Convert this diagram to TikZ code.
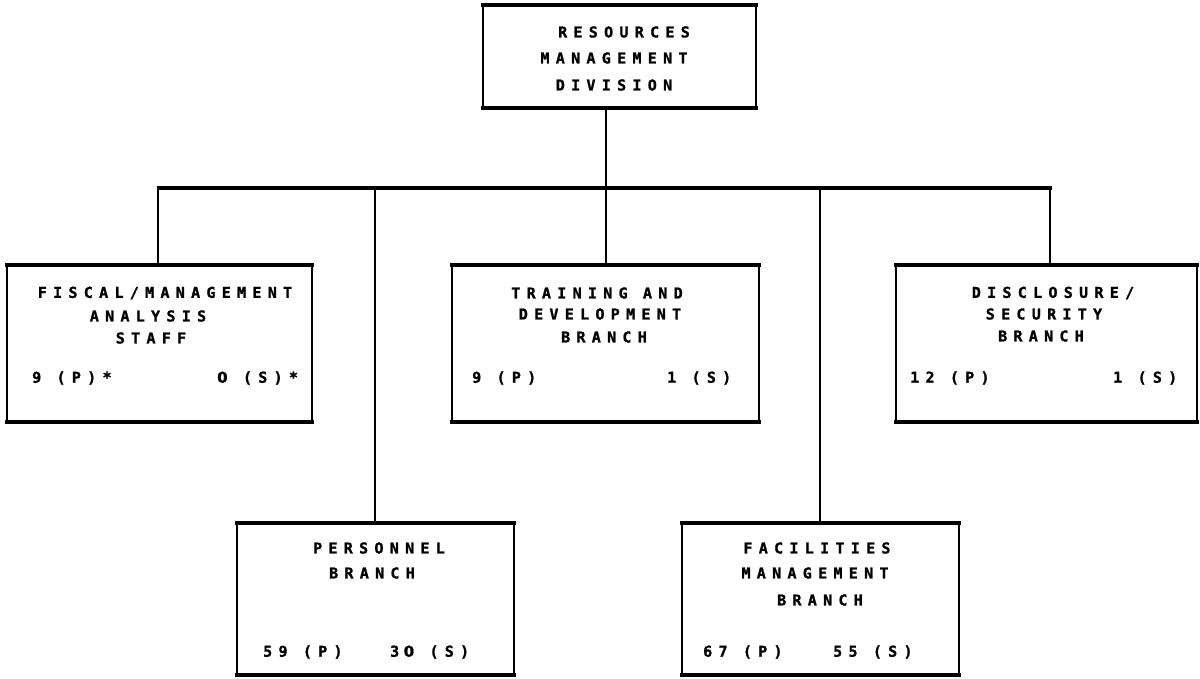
\documentclass[tikz,border=0pt]{standalone}
\usepackage{fontspec}
\newfontfamily\orgfont[LetterSpace=42,FakeBold=1.2]{DejaVu Sans Mono Bold}
% plain (undotted) zero for the staff counts
\newfontfamily\zerofont[LetterSpace=30,FakeBold=1.2]{DejaVu Sans Bold}
\newcommand\nought{{\zerofont 0}}
\begin{document}
\begin{tikzpicture}[x=1pt,y=-1pt,
  unit/.style={draw=none, inner sep=0, outer sep=0},
  side/.style={line width=1.5pt},
  rule/.style={line width=3.4pt},
  link/.style={line width=1.3pt},
  lbl/.style={inner sep=0, font=\orgfont\fontsize{15}{15}\selectfont},
  cnt/.style={lbl, anchor=west}]
\useasboundingbox (0,0) rectangle (1200,678);

\newcommand\orgframe[1]{%
  \draw[side] (#1.north west) -- (#1.south west) (#1.north east) -- (#1.south east);
  \draw[rule] ([xshift=-2pt]#1.north west) -- ([xshift=2pt]#1.north east);
  \draw[rule] ([xshift=-2pt]#1.south west) -- ([xshift=2pt]#1.south east);}

% unit outlines
\node[unit, minimum width=273pt, minimum height=103pt] (rmd) at (619.5,56.5) {};
\node[unit, minimum width=305pt, minimum height=157pt] (fiscal) at (159.5,343.5) {};
\node[unit, minimum width=307pt, minimum height=157pt] (training) at (605.5,343.5) {};
\node[unit, minimum width=301pt, minimum height=157pt] (disclosure) at (1046.5,343.5) {};
\node[unit, minimum width=277pt, minimum height=152pt] (personnel) at (375.5,599) {};
\node[unit, minimum width=277pt, minimum height=152pt] (facilities) at (820.5,599) {};
\foreach \u in {rmd,fiscal,training,disclosure,personnel,facilities}{\orgframe{\u}}

% bus and drops
\coordinate (busL) at (158,188);
\coordinate (busR) at (1050,188);
\coordinate (busC) at (606,188);
\coordinate (busP) at (375,188);
\coordinate (busF) at (820,188);
\draw[rule] ([xshift=-1.5pt]busL) -- ([xshift=1.5pt]busR);
\draw[link] (rmd.south -| busC) -- (busC);
\draw[link] (busL) -- (busL |- fiscal.north);
\draw[link] (busC) -- (busC |- training.north);
\draw[link] (busR) -- (busR |- disclosure.north);
\draw[link] (busP) -- (busP |- personnel.north);
\draw[link] (busF) -- (busF |- facilities.north);

% division
\node[lbl] (rmd1) at (624,32) {RESOURCES};
\node[lbl] (rmd2) at (614,58) {MANAGEMENT};
\node[lbl] (rmd3) at (614,85) {DIVISION};

% fiscal / management analysis staff
\node[lbl] (fis1) at (165,293) {FISCAL/MANAGEMENT};
\node[lbl] (fis2) at (148,316) {ANALYSIS};
\node[lbl] (fis3) at (151,338) {STAFF};
\node[cnt] (fisP) at (32,378) {9 (P)*};
\node[cnt] (fisS) at (217,378) {\nought{} (S)*};

% training and development branch
\node[lbl] (trn1) at (597,293) {TRAINING AND};
\node[lbl] (trn2) at (600,314) {DEVELOPMENT};
\node[lbl] (trn3) at (604,337) {BRANCH};
\node[cnt] (trnP) at (472,378) {9 (P)};
\node[cnt] (trnS) at (667,378) {1 (S)};

% disclosure / security branch
\node[lbl] (dis1) at (1053,293) {DISCLOSURE/};
\node[lbl] (dis2) at (1044,314) {SECURITY};
\node[lbl] (dis3) at (1041,336) {BRANCH};
\node[cnt] (disP) at (910,378) {12 (P)};
\node[cnt] (disS) at (1113,378) {1 (S)};

% personnel branch
\node[lbl] (per1) at (379,548) {PERSONNEL};
\node[lbl] (per2) at (372,573) {BRANCH};
\node[cnt] (perP) at (263,652) {59 (P)};
\node[cnt] (perS) at (390,652) {3\kern4.5pt\nought{} (S)};

% facilities management branch
\node[lbl] (fac1) at (817,548) {FACILITIES};
\node[lbl] (fac2) at (815,573) {MANAGEMENT};
\node[lbl] (fac3) at (820,600) {BRANCH};
\node[cnt] (facP) at (703,652) {67 (P)};
\node[cnt] (facS) at (833,652) {55 (S)};
\end{tikzpicture}
\end{document}
